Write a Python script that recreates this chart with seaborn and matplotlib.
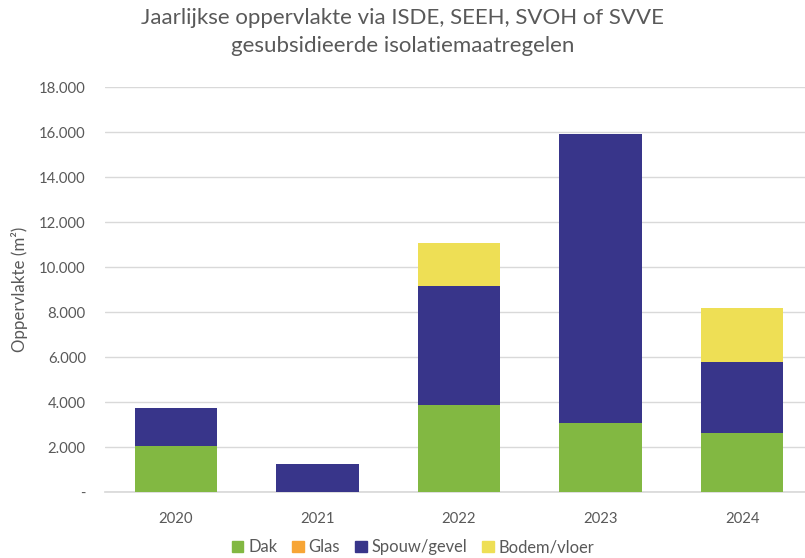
import pandas as pd
import seaborn as sns
import matplotlib.pyplot as plt
from matplotlib.ticker import FuncFormatter
from matplotlib.patches import Patch

# Waarden (m2)
jaren = ['2020', '2021', '2022', '2023', '2024']
dak = [2050, 0, 3870, 3070, 2640]
glas = [0, 0, 0, 0, 0]
spouw_gevel = [1670, 1240, 5310, 12860, 3150]
bodem_vloer = [0, 0, 1910, 0, 2400]

series = ['Dak', 'Glas', 'Spouw/gevel', 'Bodem/vloer']
kleuren = ['#82B842', '#F7A535', '#38358A', '#EEDF55']

df = pd.DataFrame({'jaar': jaren, 'Dak': dak, 'Glas': glas,
                   'Spouw/gevel': spouw_gevel, 'Bodem/vloer': bodem_vloer})

sns.set_theme(style='white')
plt.rcParams['font.family'] = ['Lato', 'DejaVu Sans']
grijs = '#595959'

fig = plt.figure(figsize=(8.05, 5.58), dpi=100)
ax = fig.add_axes([0.1307, 0.118, 0.879, 0.726])

# Gestapelde balken
onderkant = pd.Series([0] * len(jaren))
for naam, kleur in zip(series, kleuren):
    sns.barplot(data=df, x='jaar', y=naam, color=kleur, bottom=onderkant.values,
                width=0.58, ax=ax, zorder=3, saturation=1, linewidth=0)
    onderkant = onderkant + df[naam]

ax.set_ylim(0, 18000)
ax.set_xlim(-0.5, 4.5)
ax.set_yticks(range(0, 18001, 2000))


def fmt(v, pos):
    if v == 0:
        return '-'
    return f'{int(v):,}'.replace(',', '.')


ax.yaxis.set_major_formatter(FuncFormatter(fmt))
ax.grid(axis='y', color='#D9D9D9', linewidth=1, zorder=0)
for kant in ['top', 'right', 'left']:
    ax.spines[kant].set_visible(False)
ax.spines['bottom'].set_color('#D9D9D9')
ax.tick_params(axis='y', colors=grijs, labelsize=10.7, length=0, pad=14)
ax.tick_params(axis='x', colors=grijs, labelsize=10.7, length=0, pad=14)
ax.set_xlabel('')
ax.set_ylabel('Oppervlakte (m²)', color=grijs, fontsize=12.2, labelpad=8)

fig.suptitle('Jaarlijkse oppervlakte via ISDE, SEEH, SVOH of SVVE\ngesubsidieerde isolatiemaatregelen',
             color=grijs, fontsize=16, y=0.985, linespacing=1.45)

handles = [Patch(color=k, label=n) for n, k in zip(series, kleuren)]
fig.legend(handles=handles, loc='lower center', ncol=4, frameon=False,
           bbox_to_anchor=(0.513, -0.022), handlelength=0.7, handleheight=0.7,
           handletextpad=0.3, columnspacing=0.9, labelcolor=grijs, fontsize=11.9)

plt.savefig('out.png', dpi=100)
